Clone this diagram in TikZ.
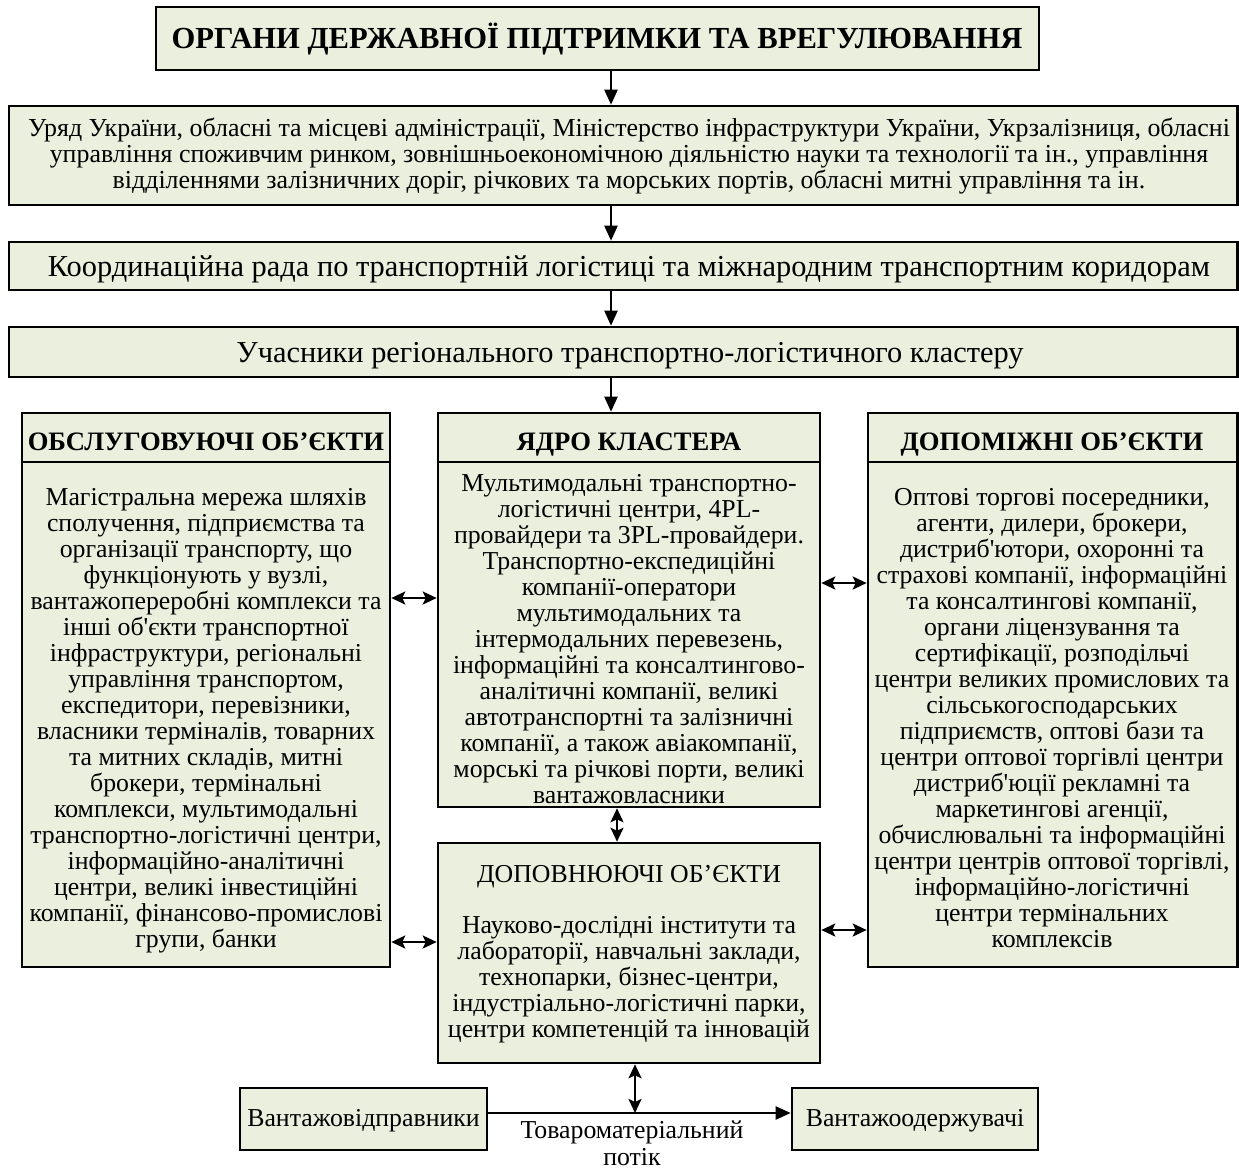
\documentclass[tikz,border=0pt]{standalone}
\usepackage{fontspec}
\setmainfont{Liberation Serif}[Ligatures=TeXOff]
\usetikzlibrary{arrows.meta,fit}
\definecolor{boxfill}{RGB}{235,239,222}
\begin{document}
\begin{tikzpicture}[x=0.5pt,y=-0.5pt,
  box/.style={draw=black, line width=1.3pt, fill=boxfill, inner sep=0pt},
  dn/.style={-{Triangle[length=7.5pt,width=6.5pt]}, line width=1.1pt},
  bi/.style={{Stealth[length=7pt,width=6.5pt,inset=1.5pt]}-{Stealth[length=7pt,width=6.5pt,inset=1.5pt]}, line width=1.1pt},
  txt/.style={align=center, inner sep=0pt, font=\fontsize{12.9}{13}\selectfont},
  titletxt/.style={align=center, inner sep=0pt, font=\bfseries\fontsize{15.3}{18}\selectfont},
  govtxt/.style={align=center, inner sep=0pt, font=\fontsize{12.95}{13}\selectfont},
  bigtxt/.style={align=center, inner sep=0pt, font=\fontsize{15.2}{17}\selectfont},
  hdr/.style={align=center, inner sep=0pt, font=\bfseries\fontsize{13.3}{15}\selectfont},
  sep/.style={line width=1.3pt}
  ]
\useasboundingbox (0,0) rectangle (1239,1169);

% top chain
\node[box, fit={(156,7) (1039,70)}] (top) {};
\node[titletxt, anchor=base] (toptxt) at (597,48.5) {ОРГАНИ ДЕРЖАВНОЇ ПІДТРИМКИ ТА ВРЕГУЛЮВАННЯ};

\node[box, fit={(9,106) (1237.5,205)}] (gov) {};
\node[govtxt] (govtxt) at (629,156) {Уряд України, обласні та місцеві адміністрації, Міністерство інфраструктури України, Укрзалізниця, обласні\\
управління споживчим ринком, зовнішньоекономічною діяльністю науки та технології та ін., управління\\
відділеннями залізничних доріг, річкових та морських портів, обласні митні управління та ін.};

\node[box, fit={(9,242) (1237.5,290)}] (coord) {};
\node[bigtxt, anchor=base] (coordtxt) at (629,276) {Координаційна рада по транспортній логістиці та міжнародним транспортним коридорам};

\node[box, fit={(9,327) (1237.5,377)}] (part) {};
\node[bigtxt, anchor=base] (parttxt) at (630,362) {Учасники регіонального транспортно-логістичного кластеру};

% columns
\node[box, fit={(22,413) (390,967)}] (left) {};
\draw[sep] (22,462) -- (390,462);
\node[hdr, anchor=base] (lefth) at (206,450) {ОБСЛУГОВУЮЧІ ОБ’ЄКТИ};
\node[txt] (leftb) at (206,721) {Магістральна мережа шляхів\\
сполучення, підприємства та\\
організації транспорту, що\\
функціонують у вузлі,\\
вантажопереробні комплекси та\\
інші об'єкти транспортної\\
інфраструктури, регіональні\\
управління транспортом,\\
експедитори, перевізники,\\
власники терміналів, товарних\\
та митних складів, митні\\
брокери, термінальні\\
комплекси, мультимодальні\\
транспортно-логістичні центри,\\
інформаційно-аналітичні\\
центри, великі інвестиційні\\
компанії, фінансово-промислові\\
групи, банки};

\node[box, fit={(438,413) (820,807)}] (core) {};
\draw[sep] (438,462) -- (820,462);
\node[hdr, anchor=base] (coreh) at (629,450) {ЯДРО КЛАСТЕРА};
\node[txt] (coreb) at (629,639) {Мультимодальні транспортно-\\
логістичні центри, 4PL-\\
провайдери та 3PL-провайдери.\\
Транспортно-експедиційні\\
компанії-оператори\\
мультимодальних та\\
інтермодальних перевезень,\\
інформаційні та консалтингово-\\
аналітичні компанії, великі\\
автотранспортні та залізничні\\
компанії, а також авіакомпанії,\\
морські та річкові порти, великі\\
вантажовласники};

\node[box, fit={(868,413) (1237.5,967)}] (right) {};
\draw[sep] (868,462) -- (1237.5,462);
\node[hdr, anchor=base] (righth) at (1052,450) {ДОПОМІЖНІ ОБ’ЄКТИ};
\node[txt] (rightb) at (1052,718) {Оптові торгові посередники,\\
агенти, дилери, брокери,\\
дистриб'ютори, охоронні та\\
страхові компанії, інформаційні\\
та консалтингові компанії,\\
органи ліцензування та\\
сертифікації, розподільчі\\
центри великих промислових та\\
сільськогосподарських\\
підприємств, оптові бази та\\
центри оптової торгівлі центри\\
дистриб'юції рекламні та\\
маркетингові агенції,\\
обчислювальні та інформаційні\\
центри центрів оптової торгівлі,\\
інформаційно-логістичні\\
центри термінальних\\
комплексів};

\node[box, fit={(438,843) (820,1063)}] (compl) {};
\node[txt, anchor=base] (complh) at (629,882) {ДОПОВНЮЮЧІ ОБ’ЄКТИ};
\node[txt] (complb) at (629,980) {Науково-дослідні інститути та\\
лабораторії, навчальні заклади,\\
технопарки, бізнес-центри,\\
індустріально-логістичні парки,\\
центри компетенцій та інновацій};

% bottom
\node[box, fit={(240,1088) (487,1150)}] (ship) {};
\node[txt, anchor=base] (shiptxt) at (363.5,1126) {Вантажовідправники};
\node[box, fit={(792,1088) (1038,1150)}] (recv) {};
\node[txt, anchor=base] (recvtxt) at (915,1126) {Вантажоодержувачі};
\node[align=center, inner sep=0pt, font=\fontsize{12.9}{13.5}\selectfont, anchor=south] (flowtxt) at (632,1166) {Товароматеріальний\\потік};

% connectors
\coordinate (ax) at (611,0);
\draw[dn] (top.south -| ax) -- (gov.north -| ax);
\draw[dn] (gov.south -| ax) -- (coord.north -| ax);
\draw[dn] (coord.south -| ax) -- (part.north -| ax);
\draw[dn] (part.south -| ax) -- (core.north -| ax);

\coordinate (yl1) at (0,598);
\coordinate (yl2) at (0,942);
\coordinate (yr1) at (0,583);
\coordinate (yr2) at (0,930);
\draw[bi] (left.east |- yl1) -- (core.west |- yl1);
\draw[bi] (left.east |- yl2) -- (compl.west |- yl2);
\draw[bi] (core.east |- yr1) -- (right.west |- yr1);
\draw[bi] (compl.east |- yr2) -- (right.west |- yr2);

\coordinate (cx) at (617,0);
\draw[bi] (core.south -| cx) -- (compl.north -| cx);

\coordinate (fy) at (0,1113);
\draw[dn] (ship.east |- fy) -- (recv.west |- fy);
\coordinate (flow) at (635,1113);
\draw[bi] (compl.south -| flow) -- (flow);
\end{tikzpicture}
\end{document}
